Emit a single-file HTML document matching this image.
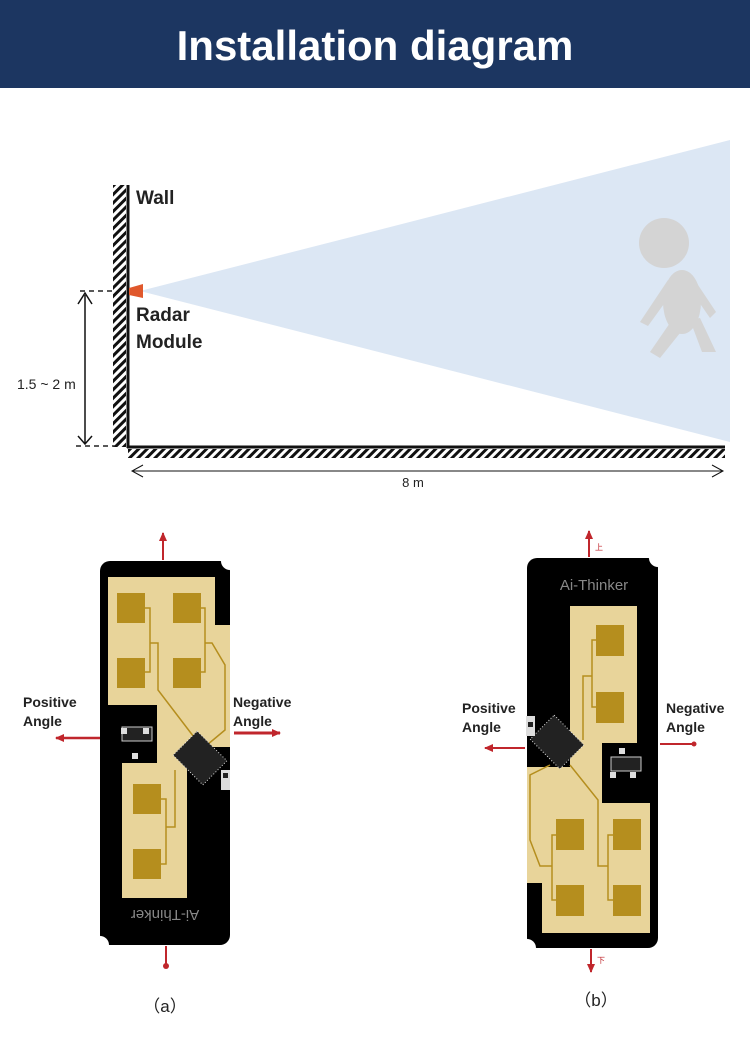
<!DOCTYPE html>
<html><head><meta charset="utf-8"><style>
body{margin:0;width:750px;height:1032px;background:#fff;overflow:hidden;font-family:"Liberation Sans","Noto Sans CJK SC",sans-serif}
</style></head><body>
<svg width="750" height="1032" viewBox="0 0 750 1032" xmlns="http://www.w3.org/2000/svg">
<defs>
<pattern id="hatch" width="6" height="6" patternUnits="userSpaceOnUse" patternTransform="rotate(45)">
<rect width="3" height="6" fill="#111"/></pattern>
<marker id="ahr" markerUnits="userSpaceOnUse" markerWidth="10" markerHeight="10" refX="8" refY="5" orient="auto"><path d="M0,1 L9,5 L0,9 Z" fill="#c0262c"/></marker>
</defs>
<rect x="0" y="0" width="750" height="88" fill="#1c3661"/>
<text x="375" y="60" text-anchor="middle" fill="#fff" font-size="42" font-weight="bold">Installation diagram</text>

<g>
<polygon points="140,291 730,140 730,442" fill="#dce7f4"/>
<rect x="113" y="185" width="13" height="262" fill="url(#hatch)"/>
<line x1="128" y1="185" x2="128" y2="448" stroke="#111" stroke-width="3"/>
<rect x="128" y="449" width="597" height="9" fill="url(#hatch)"/>
<line x1="127" y1="447" x2="725" y2="447" stroke="#111" stroke-width="3"/>
<polygon points="129,288 143,284 143,298 129,295" fill="#e0582c"/>
<text x="136" y="204" font-size="19" font-weight="bold" fill="#222">Wall</text>
<text x="136" y="321" font-size="19" font-weight="bold" fill="#222">Radar</text>
<text x="136" y="348" font-size="19" font-weight="bold" fill="#222">Module</text>
<line x1="80" y1="291" x2="115" y2="291" stroke="#222" stroke-width="1.5" stroke-dasharray="5,4"/>
<line x1="76" y1="446" x2="115" y2="446" stroke="#222" stroke-width="1.5" stroke-dasharray="5,4"/>
<line x1="85" y1="295" x2="85" y2="443" stroke="#111" stroke-width="1.5"/>
<path d="M78,304 L85,293 L92,304 M78,436 L85,444 L92,436" fill="none" stroke="#111" stroke-width="1.5"/>
<text x="17" y="389" font-size="14" fill="#222">1.5 ~ 2 m</text>
<line x1="133" y1="471" x2="722" y2="471" stroke="#111" stroke-width="1"/>
<path d="M143,465 L132,471 L143,477 M712,465 L723,471 L712,477" fill="none" stroke="#111" stroke-width="1"/>
<text x="413" y="487" text-anchor="middle" font-size="13" fill="#222">8 m</text>
<g fill="#d4d4d4">
<circle cx="664" cy="243" r="25"/>
<ellipse cx="682" cy="302" rx="19" ry="32"/>
<path d="M672,320 L650,352 L660,358 L684,328 Z"/>
<path d="M690,320 L702,352 L716,352 L700,318 Z"/>
<path d="M668,280 L640,322 L648,326 L674,290 Z"/>
<path d="M696,282 L716,312 L710,318 L692,292 Z"/>
</g>
</g>

<g>
<line x1="163" y1="560" x2="163" y2="533" stroke="#c0262c" stroke-width="2" marker-end="url(#ahr)"/>
<line x1="166" y1="946" x2="166" y2="968" stroke="#c0262c" stroke-width="2"/>
<circle cx="166" cy="966" r="3" fill="#c0262c"/>
<rect x="100" y="561" width="130" height="384" rx="10" fill="#000"/>
<circle cx="230" cy="561" r="9" fill="#fff"/><circle cx="100" cy="945" r="9" fill="#fff"/>
<path d="M108,577 L215,577 L215,625 L230,625 L230,747 L187,747 L187,898 L122,898 L122,763 L157,763 L157,705 L108,705 Z" fill="#e8d49a"/>
<g fill="#b58e1e">
<rect x="117" y="593" width="28" height="30"/><rect x="173" y="593" width="28" height="30"/>
<rect x="117" y="658" width="28" height="30"/><rect x="173" y="658" width="28" height="30"/>
<rect x="133" y="784" width="28" height="30"/><rect x="133" y="849" width="28" height="30"/>
</g>
<path d="M145,608 L150,608 L150,643 L158,643 L158,690 L200,745 M145,672 L150,672 L150,643 M201,608 L205,608 L205,643 L212,643 L225,665 L225,730 L207,745 M201,672 L205,672 L205,643 M161,799 L166,799 L166,827 L175,827 L175,770 M161,864 L166,864 L166,827" stroke="#b58e1e" stroke-width="1.5" fill="none"/>
<rect x="179" y="741" width="42" height="34" fill="#222" stroke="#ddd" stroke-width="1" stroke-dasharray="1,2" transform="rotate(45 200 758)"/>
<rect x="122" y="727" width="30" height="14" fill="#222" stroke="#ccc"/>
<rect x="121" y="728" width="6" height="6" fill="#ddd"/><rect x="143" y="728" width="6" height="6" fill="#ddd"/><rect x="132" y="753" width="6" height="6" fill="#ddd"/>
<rect x="221" y="770" width="9" height="20" fill="#ddd"/><rect x="223" y="773" width="5" height="5" fill="#222"/>
<text x="165" y="920" text-anchor="middle" font-size="15" fill="#888" transform="rotate(180 165 915)">Ai-Thinker</text>
<line x1="100" y1="738" x2="56" y2="738" stroke="#c0262c" stroke-width="2.5" marker-end="url(#ahr)"/>
<line x1="234" y1="733" x2="280" y2="733" stroke="#c0262c" stroke-width="3" marker-end="url(#ahr)"/>
</g>
<text x="23" y="707" font-size="14" font-weight="bold" fill="#222">Positive</text>
<text x="23" y="726" font-size="14" font-weight="bold" fill="#222">Angle</text>
<text x="233" y="707" font-size="14" font-weight="bold" fill="#222">Negative</text>
<text x="233" y="726" font-size="14" font-weight="bold" fill="#222">Angle</text>
<text x="165" y="1012" text-anchor="middle" font-size="17" fill="#222">（a）</text>

<g>
<line x1="589" y1="557" x2="589" y2="531" stroke="#c0262c" stroke-width="2" marker-end="url(#ahr)"/>
<line x1="591" y1="949" x2="591" y2="972" stroke="#c0262c" stroke-width="2" marker-end="url(#ahr)"/>
<text x="595" y="550" font-size="8" fill="#c0262c">上</text><text x="597" y="963" font-size="8" fill="#c0262c">下</text>
<rect x="527" y="558" width="131" height="390" rx="10" fill="#000"/>
<circle cx="658" cy="558" r="9" fill="#fff"/><circle cx="527" cy="948" r="9" fill="#fff"/>
<path d="M570,606 L637,606 L637,743 L602,743 L602,803 L650,803 L650,933 L542,933 L542,883 L527,883 L527,767 L570,767 Z" fill="#e8d49a"/>
<g fill="#b58e1e">
<rect x="596" y="625" width="28" height="31"/><rect x="596" y="692" width="28" height="31"/>
<rect x="556" y="819" width="28" height="31"/><rect x="613" y="819" width="28" height="31"/>
<rect x="556" y="885" width="28" height="31"/><rect x="613" y="885" width="28" height="31"/>
</g>
<path d="M596,640 L592,640 L592,676 L583,676 L583,740 M596,707 L592,707 L592,676 M556,835 L552,835 L552,866 L540,866 L530,840 L530,775 L550,765 M556,900 L552,900 L552,866 M613,835 L608,835 L608,866 L598,866 L598,800 L570,765 M613,900 L608,900 L608,866" stroke="#b58e1e" stroke-width="1.5" fill="none"/>
<rect x="536" y="725" width="42" height="34" fill="#222" stroke="#ddd" stroke-width="1" stroke-dasharray="1,2" transform="rotate(45 557 742)"/>
<rect x="611" y="757" width="30" height="14" fill="#222" stroke="#ccc"/>
<rect x="619" y="748" width="6" height="6" fill="#ddd"/><rect x="610" y="772" width="6" height="6" fill="#ddd"/><rect x="630" y="772" width="6" height="6" fill="#ddd"/>
<rect x="526" y="716" width="9" height="20" fill="#ddd"/><rect x="528" y="722" width="5" height="5" fill="#222"/>
<text x="594" y="590" text-anchor="middle" font-size="15" fill="#888">Ai-Thinker</text>
<line x1="525" y1="748" x2="485" y2="748" stroke="#c0262c" stroke-width="2" marker-end="url(#ahr)"/>
<line x1="660" y1="744" x2="695" y2="744" stroke="#c0262c" stroke-width="2"/>
<circle cx="694" cy="744" r="2.5" fill="#c0262c"/>
</g>
<text x="462" y="713" font-size="14" font-weight="bold" fill="#222">Positive</text>
<text x="462" y="732" font-size="14" font-weight="bold" fill="#222">Angle</text>
<text x="666" y="713" font-size="14" font-weight="bold" fill="#222">Negative</text>
<text x="666" y="732" font-size="14" font-weight="bold" fill="#222">Angle</text>
<text x="596" y="1006" text-anchor="middle" font-size="17" fill="#222">（b）</text>
</svg>
</body></html>
